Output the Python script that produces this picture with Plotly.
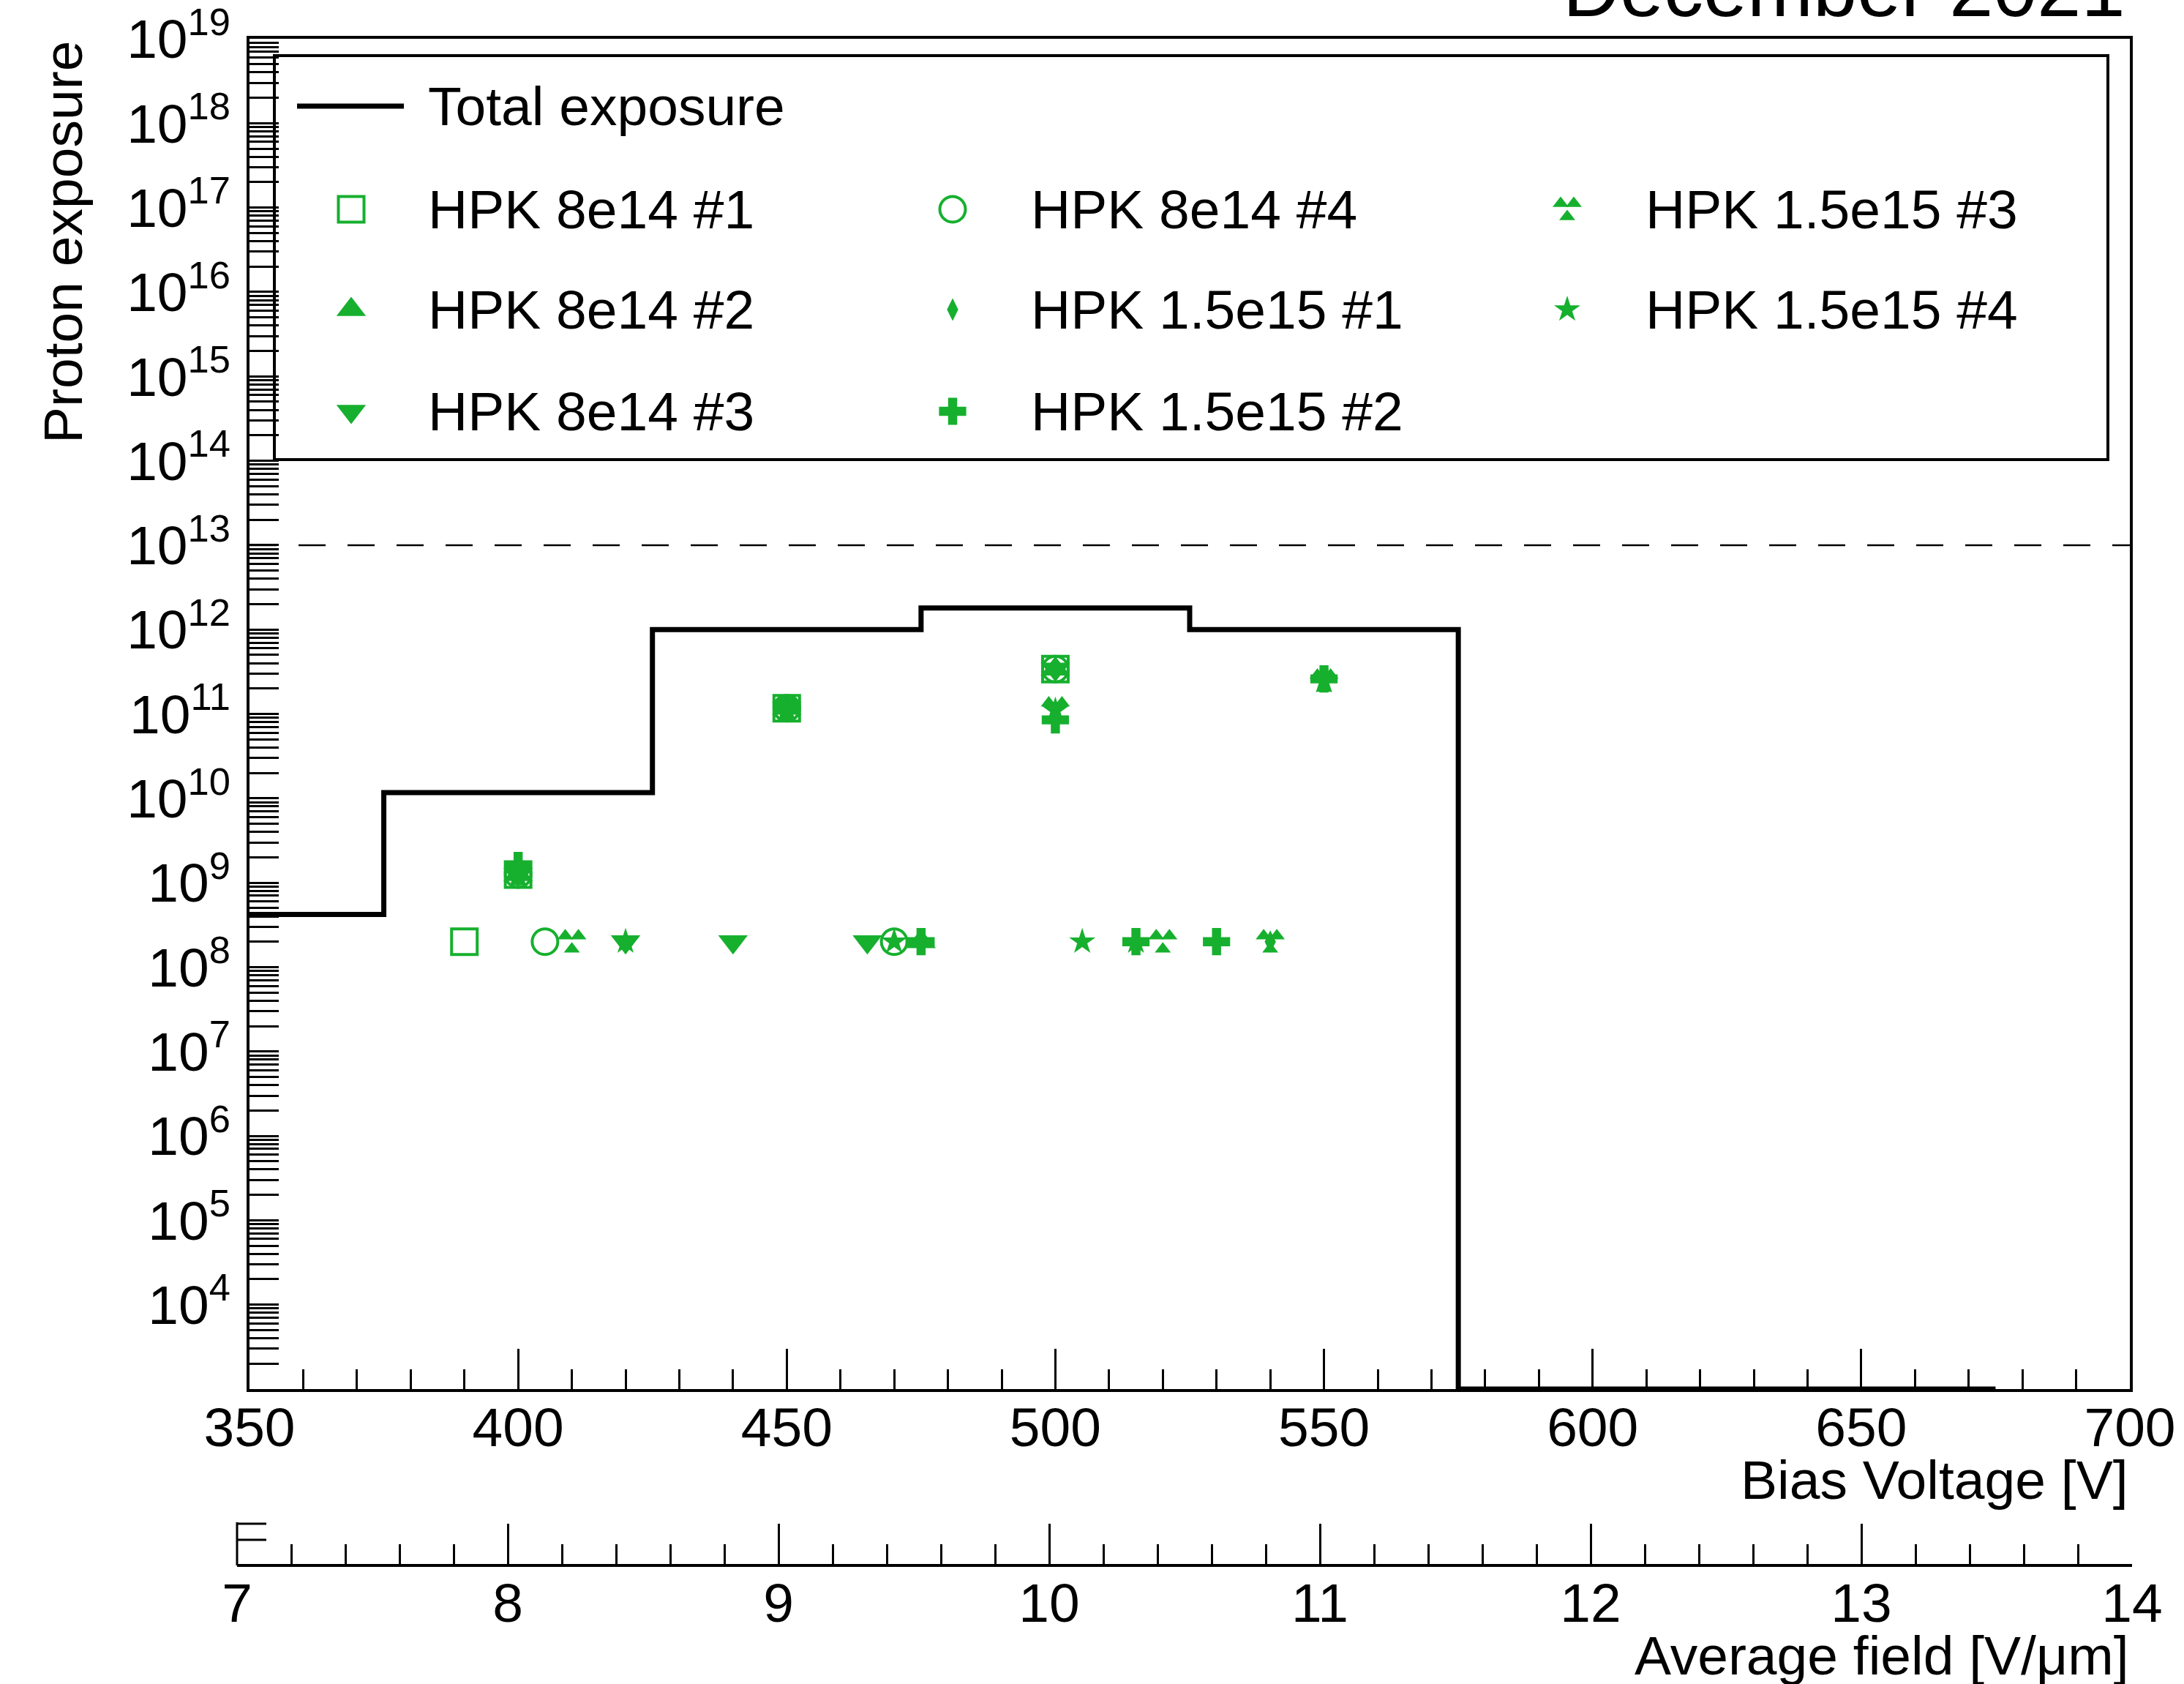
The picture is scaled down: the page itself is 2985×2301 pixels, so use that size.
import plotly.graph_objects as go

# ---------------- data ----------------
hist_edges = [325, 375, 425, 475, 525, 575, 625, 675]          # bias-voltage bin edges [V]
hist_exposure = [4.2e8, 1.17e10, 1.0e12, 1.8e12, 1.0e12, 0, 0]   # total proton exposure per bin
limit_exposure = 1e13

series_names = ["HPK 8e14 #1", "HPK 8e14 #2", "HPK 8e14 #3", "HPK 8e14 #4",
                "HPK 1.5e15 #1", "HPK 1.5e15 #2", "HPK 1.5e15 #3", "HPK 1.5e15 #4"]

v_8e14_1 = [390, 400, 450, 500]
e_8e14_1 = [2e8, 1.25e9, 1.17e11, 3.4e11]
v_8e14_2 = [400, 450, 475, 500]
e_8e14_2 = [1.25e9, 1.17e11, 2e8, 3.4e11]
v_8e14_3 = [400, 420, 440, 450, 465, 500]
e_8e14_3 = [1.25e9, 2e8, 2e8, 1.17e11, 2e8, 3.4e11]
v_8e14_4 = [400, 405, 450, 470, 500]
e_8e14_4 = [1.25e9, 2e8, 1.17e11, 2e8, 3.4e11]
v_15e15_1 = [400, 450, 500, 540, 550]
e_15e15_1 = [1.25e9, 1.17e11, 1.0e11, 2e8, 2.5e11]
v_15e15_2 = [400, 450, 475, 500, 515, 530, 550]
e_15e15_2 = [1.6e9, 1.17e11, 2e8, 0.85e11, 2e8, 2e8, 2.6e11]
v_15e15_3 = [400, 410, 450, 500, 520, 540, 550]
e_15e15_3 = [1.25e9, 2e8, 1.17e11, 1.15e11, 2e8, 2e8, 2.45e11]
v_15e15_4 = [400, 420, 450, 470, 500, 505, 515, 550]
e_15e15_4 = [1.25e9, 2e8, 1.17e11, 2e8, 1.1e11, 2e8, 2e8, 2.45e11]

series_v = [v_8e14_1, v_8e14_2, v_8e14_3, v_8e14_4, v_15e15_1, v_15e15_2, v_15e15_3, v_15e15_4]
series_e = [e_8e14_1, e_8e14_2, e_8e14_3, e_8e14_4, e_15e15_1, e_15e15_2, e_15e15_3, e_15e15_4]

x_range = [350, 700]
logy_range = [3, 19]
field_range = [7, 14]
y_tick_exps = list(range(4, 20))

# ---------------- layout geometry / style ----------------
W, H = 2985, 2301
X0, X1 = 341, 2911          # main frame left/right (px)
YT, YB = 53, 1898           # main frame top/bottom (px)
X2A, X2B, X2Y = 324, 2914, 2139   # secondary axis
GREEN = "#16B02E"
FONT = "Liberation Sans, Arial, Helvetica, sans-serif"
FS = 75

PX_PER_V = (X1 - X0) / (x_range[1] - x_range[0])
PX_PER_DEC = (YB - YT) / (logy_range[1] - logy_range[0])
TRI3_OFFSETS = [(-9, -8), (9, -8), (0, 10)]

styles = [
    dict(symbol="square-open", size=35, color=GREEN, line=dict(width=4, color=GREEN)),
    dict(symbol="triangle-up", size=35, color=GREEN, line=dict(width=0)),
    dict(symbol="triangle-down", size=35, color=GREEN, line=dict(width=0)),
    dict(symbol="circle-open", size=35, color=GREEN, line=dict(width=4, color=GREEN)),
    dict(symbol="diamond-tall", size=22, color=GREEN, line=dict(width=0)),
    dict(symbol="cross", size=31, color=GREEN, line=dict(width=0)),
    "tri3",
    dict(symbol="star", size=27, color=GREEN, line=dict(width=0)),
]
TRI_SMALL = dict(symbol="triangle-up", size=19, color=GREEN, line=dict(width=0))


def tri3_data(xs, ys):
    ox, oy = [], []
    for x, y in zip(xs, ys):
        for dxp, dyp in TRI3_OFFSETS:
            ox.append(x + dxp / PX_PER_V)
            oy.append(y * 10 ** (-dyp / PX_PER_DEC))
    return ox, oy


fig = go.Figure()

# total exposure histogram (zero bins drawn on the frame bottom, as ROOT does)
floor = 10 ** logy_range[0]
hy = [v if v > 0 else floor for v in hist_exposure] + [hist_exposure[-1] if hist_exposure[-1] > 0 else floor]
fig.add_trace(go.Scatter(x=hist_edges, y=hy, mode="lines", line=dict(color="black", width=7, shape="hv"),
                         name="Total exposure", showlegend=False, hoverinfo="skip"))

# limit line
fig.add_trace(go.Scatter(x=x_range, y=[limit_exposure, limit_exposure], mode="lines",
                         line=dict(color="black", width=2.5, dash="37px,30px"),
                         showlegend=False, hoverinfo="skip"))

for name, vs, es, st in zip(series_names, series_v, series_e, styles):
    if st == "tri3":
        tx, ty = tri3_data(vs, es)
        fig.add_trace(go.Scatter(x=tx, y=ty, mode="markers", marker=TRI_SMALL, name=name, showlegend=False))
    else:
        fig.add_trace(go.Scatter(x=vs, y=es, mode="markers", marker=st, name=name, showlegend=False))

# dummy trace for secondary field axis
fig.add_trace(go.Scatter(x=field_range, y=[None, None], xaxis="x2", yaxis="y", showlegend=False, hoverinfo="skip"))

# ---------------- manual ROOT-style legend (pixel overlay axes) ----------------
col_marker_x = [480, 1302, 2142]
col_text_x = [583, 1407, 2247]
row_y = [145, 286, 423, 562]

shapes = []
annotations = []
shapes.append(dict(type="rect", xref="x3", yref="y3", x0=375, y0=76, x1=2881, y1=628,
                   line=dict(color="black", width=4), fillcolor="rgba(0,0,0,0)", layer="above"))
shapes.append(dict(type="line", xref="x3", yref="y3", x0=406, x1=552, y0=row_y[0], y1=row_y[0],
                   line=dict(color="black", width=7)))
annotations.append(dict(x=col_text_x[0], y=row_y[0], xref="x3", yref="y3", text="Total exposure",
                        showarrow=False, xanchor="left", yanchor="middle", font=dict(size=FS, family=FONT, color="black")))

for i, (name, st) in enumerate(zip(series_names, styles)):
    col, row = i // 3, i % 3 + 1
    cx, cy = col_marker_x[col], row_y[row]
    if st == "tri3":
        fig.add_trace(go.Scatter(x=[cx + d[0] for d in TRI3_OFFSETS], y=[cy + d[1] for d in TRI3_OFFSETS],
                                 mode="markers", marker=TRI_SMALL, xaxis="x3", yaxis="y3",
                                 showlegend=False, hoverinfo="skip"))
    else:
        fig.add_trace(go.Scatter(x=[cx], y=[cy], mode="markers", marker=st, xaxis="x3", yaxis="y3",
                                 showlegend=False, hoverinfo="skip"))
    annotations.append(dict(x=col_text_x[col], y=cy, xref="x3", yref="y3", text=name, showarrow=False,
                            xanchor="left", yanchor="middle", font=dict(size=FS, family=FONT, color="black")))

# titles
annotations += [
    dict(x=X1, y=2022, xref="x3", yref="y3", text="Bias Voltage [V]", showarrow=False,
         xanchor="right", yanchor="middle", font=dict(size=FS, family=FONT, color="black")),
    dict(x=X1, y=2262, xref="x3", yref="y3", text="Average field [V/μm]", showarrow=False,
         xanchor="right", yanchor="middle", font=dict(size=FS, family=FONT, color="black")),
    dict(x=86, y=331, xref="x3", yref="y3", text="Proton exposure", showarrow=False, textangle=-90,
         xanchor="center", yanchor="middle", font=dict(size=FS, family=FONT, color="black")),
    dict(x=2906, y=47, xref="x3", yref="y3", text="December 2021", showarrow=False,
         xanchor="right", yanchor="bottom", font=dict(size=108, family=FONT, color="black")),
]

# ROOT TGaxis artefact at the start of the field axis
shapes += [
    dict(type="line", xref="x3", yref="y3", x0=X2A, x1=X2A, y0=2080, y1=X2Y, line=dict(color="black", width=3)),
    dict(type="line", xref="x3", yref="y3", x0=X2A, x1=364, y0=2082, y1=2082, line=dict(color="black", width=3)),
    dict(type="line", xref="x3", yref="y3", x0=X2A, x1=364, y0=2104, y1=2104, line=dict(color="black", width=3)),
]

minor_y = [m * 10 ** k for k in range(logy_range[0], logy_range[1]) for m in range(2, 10)]
eps = 1e-4

fig.update_layout(
    width=W, height=H, autosize=False,
    margin=dict(l=0, r=0, t=0, b=0, pad=0),
    paper_bgcolor="white", plot_bgcolor="rgba(0,0,0,0)",
    font=dict(family=FONT, size=FS, color="black"),
    showlegend=False,
    shapes=shapes, annotations=annotations,
    xaxis=dict(domain=[X0 / W, X1 / W], range=x_range, anchor="y",
               tickmode="linear", tick0=350, dtick=50, ticks="inside", ticklen=55, tickwidth=3,
               tickcolor="black", showline=True, linewidth=4, linecolor="black", mirror=True,
               showgrid=False, zeroline=False, automargin=False, ticklabelstandoff=-16,
               ticklabeloverflow="allow",
               tickfont=dict(size=FS, family=FONT, color="black"),
               minor=dict(tickmode="linear", tick0=350, dtick=10, ticks="inside", ticklen=27,
                          tickwidth=3, tickcolor="black", showgrid=False)),
    yaxis=dict(domain=[1 - YB / H, 1 - YT / H], type="log",
               range=[logy_range[0] - eps, logy_range[1] + eps], anchor="x",
               tickmode="array", tickvals=[10 ** k for k in y_tick_exps],
               ticktext=[f"10<sup>{k}</sup>" for k in y_tick_exps],
               ticks="inside", ticklen=40, tickwidth=3, tickcolor="black",
               showline=True, linewidth=4, linecolor="black", mirror=True,
               showgrid=False, zeroline=False, automargin=False, ticklabelstandoff=7,
               ticklabeloverflow="allow",
               tickfont=dict(size=FS, family=FONT, color="black"),
               minor=dict(tickmode="array", tickvals=minor_y, ticks="inside", ticklen=40,
                          tickwidth=3, tickcolor="black", showgrid=False)),
    xaxis2=dict(domain=[X2A / W, X2B / W], range=field_range, anchor="free", position=1 - X2Y / H,
                tickmode="linear", tick0=7, dtick=1, ticks="inside", ticklen=55, tickwidth=3,
                tickcolor="black", showline=True, linewidth=4, linecolor="black",
                showgrid=False, zeroline=False, automargin=False, ticklabelstandoff=-15,
                ticklabeloverflow="allow",
                tickfont=dict(size=FS, family=FONT, color="black"),
                minor=dict(tickmode="linear", tick0=7, dtick=0.2, ticks="inside", ticklen=27,
                           tickwidth=3, tickcolor="black", showgrid=False)),
    xaxis3=dict(domain=[0, 1], range=[0, W], visible=False, anchor="y3", fixedrange=True),
    yaxis3=dict(domain=[0, 1], range=[H, 0], visible=False, anchor="x3", fixedrange=True),
)

fig.write_html("out.html")
